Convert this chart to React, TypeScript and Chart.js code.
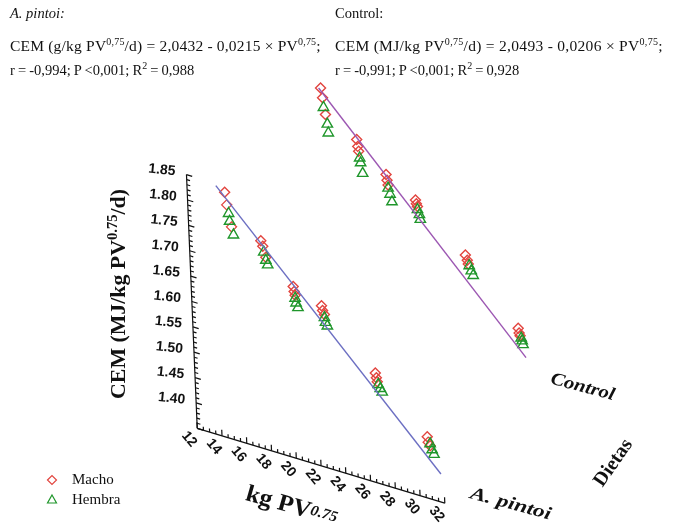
import React, { useEffect, useRef } from "react";
import { Chart, registerables } from "chart.js";

Chart.register(...registerables);

// ---------------- DATA ----------------
const DIETS = ["A. pintoi", "Control"];
const SEXES = ["Macho", "Hembra"];

// kg PV^0.75 (x) and CEM (MJ/kg PV^0.75/d) (y)
const pintoiMachoPV = [14.28, 14.4, 14.72, 17.07, 17.21, 17.42, 19.56, 19.62, 19.69, 21.81, 21.88, 22.02, 25.98, 26.05, 26.11, 30.01, 30.07, 30.22];
const pintoiMachoCEM = [1.792, 1.768, 1.727, 1.717, 1.707, 1.687, 1.645, 1.636, 1.629, 1.624, 1.615, 1.608, 1.522, 1.513, 1.506, 1.426, 1.416, 1.41];
const pintoiHembraPV = [14.53, 14.58, 14.85, 17.27, 17.41, 17.55, 19.68, 19.74, 19.88, 22.01, 22.08, 22.22, 26.18, 26.33, 26.48, 30.22, 30.36, 30.5];
const pintoiHembraCEM = [1.752, 1.737, 1.712, 1.696, 1.681, 1.673, 1.623, 1.614, 1.606, 1.602, 1.593, 1.587, 1.501, 1.494, 1.488, 1.414, 1.403, 1.395];
const controlMachoPV = [14.47, 14.6, 14.78, 17.25, 17.31, 17.37, 19.53, 19.59, 19.66, 21.85, 21.91, 21.99, 25.74, 25.88, 25.95, 29.81, 29.87, 29.94];
const controlMachoCEM = [1.788, 1.77, 1.738, 1.707, 1.694, 1.685, 1.655, 1.644, 1.635, 1.622, 1.615, 1.61, 1.542, 1.533, 1.526, 1.428, 1.419, 1.414];
const controlHembraPV = [14.64, 14.9, 14.95, 17.43, 17.49, 17.62, 19.65, 19.79, 19.92, 21.98, 22.12, 22.18, 26.02, 26.17, 26.31, 30.02, 30.09, 30.15];
const controlHembraCEM = [1.751, 1.72, 1.703, 1.672, 1.663, 1.643, 1.629, 1.618, 1.604, 1.604, 1.595, 1.586, 1.523, 1.514, 1.506, 1.41, 1.405, 1.398];

// fitted lines (end points)
const pintoiFitPV = [13.58, 31.0];
const pintoiFitCEM = [1.8, 1.36];
const controlFitPV = [14.31, 30.35];
const controlFitCEM = [1.787, 1.374];

const cemTickLabels = ["1.40", "1.45", "1.50", "1.55", "1.60", "1.65", "1.70", "1.75", "1.80", "1.85"];
const pvTickLabels = ["12", "14", "16", "18", "20", "22", "24", "26", "28", "30", "32"];

const headerLeft = ["A. pintoi:", "CEM (g/kg PV", "0,75", "/d) = 2,0432 - 0,0215 × PV", "0,75", ";", "r = -0,994; P <0,001; R", "2", " = 0,988"];
const headerRight = ["Control:", "CEM (MJ/kg PV", "0,75", "/d) = 2,0493 - 0,0206 × PV", "0,75", ";", "r = -0,991; P <0,001; R", "2", " = 0,928"];

// ---------------- PROJECTION (layout) ----------------
const PV_MIN = 12, PV_MAX = 32, CEM_MIN = 1.35, CEM_MAX = 1.85;
const ORIGIN = { x: 194, y: 433 };
const PV_VEC = { x: 12.65, y: 3.85 };
const CEM_VEC = { x: -22, y: -522 };
const FRONT = { x: 0, y: 0 };
const DIET_SHIFT = [{ x: 8.9, y: -20.9 }, { x: 104.4, y: -130.9 }];

function project(pv: number, cem: number, shift: { x: number; y: number }) {
  return {
    x: ORIGIN.x + (pv - PV_MIN) * PV_VEC.x + (cem - CEM_MIN) * CEM_VEC.x + shift.x,
    y: ORIGIN.y + (pv - PV_MIN) * PV_VEC.y + (cem - CEM_MIN) * CEM_VEC.y + shift.y,
  };
}
const series = (pv: number[], cem: number[], d: number) => pv.map((v, i) => project(v, cem[i], DIET_SHIFT[d]));

const RED = "#e2453f";
const GREEN = "#1f962b";
const SERIF = '"Liberation Serif", "Times New Roman", Times, serif';
const SANS = '"Liberation Sans", Arial, sans-serif';

type Run = { t: string; font: string; dy?: number };
function drawRuns(ctx: CanvasRenderingContext2D, runs: Run[], cx: number, cy: number, angle: number, sx: number, mid: number) {
  ctx.save();
  ctx.translate(cx, cy);
  ctx.rotate(angle);
  ctx.scale(sx, 1);
  let total = 0;
  runs.forEach((r) => { ctx.font = r.font; total += ctx.measureText(r.t).width; });
  let x = -total / 2;
  ctx.textAlign = "left";
  ctx.textBaseline = "alphabetic";
  runs.forEach((r) => {
    ctx.font = r.font;
    ctx.fillText(r.t, x, mid + (r.dy || 0));
    x += ctx.measureText(r.t).width;
  });
  ctx.restore();
}

const axesPlugin = {
  id: "axes3d",
  beforeDatasetsDraw(chart: any) {
    const ctx: CanvasRenderingContext2D = chart.ctx;
    const sx = chart.scales.x, sy = chart.scales.y;
    const P = (pv: number, cem: number, sh = FRONT) => {
      const p = project(pv, cem, sh);
      return { x: sx.getPixelForValue(p.x), y: sy.getPixelForValue(p.y) };
    };
    ctx.save();
    ctx.strokeStyle = "#111";
    ctx.fillStyle = "#111";
    ctx.lineWidth = 1.2;
    // vertical CEM axis
    const a0 = P(PV_MIN, CEM_MIN), a1 = P(PV_MIN, CEM_MAX);
    ctx.beginPath(); ctx.moveTo(a0.x, a0.y); ctx.lineTo(a1.x, a1.y); ctx.stroke();
    const pvLen = Math.hypot(PV_VEC.x, PV_VEC.y);
    const ux = PV_VEC.x / pvLen, uy = PV_VEC.y / pvLen;
    for (let k = 0; k <= 50; k++) {
      const c = CEM_MIN + k * 0.01;
      const p = P(PV_MIN, c);
      const len = k % 5 === 0 ? 6 : 3.5;
      ctx.beginPath(); ctx.moveTo(p.x, p.y); ctx.lineTo(p.x + ux * len, p.y + uy * len); ctx.stroke();
    }
    // horizontal PV axis
    const b1 = P(PV_MAX, CEM_MIN);
    ctx.beginPath(); ctx.moveTo(a0.x, a0.y); ctx.lineTo(b1.x, b1.y); ctx.stroke();
    const cLen = Math.hypot(CEM_VEC.x, CEM_VEC.y);
    const vx = CEM_VEC.x / cLen, vy = CEM_VEC.y / cLen;
    for (let k = 0; k <= 40; k++) {
      const v = PV_MIN + k * 0.5;
      const p = P(v, CEM_MIN);
      const len = k % 4 === 0 ? 6 : 3.5;
      ctx.beginPath(); ctx.moveTo(p.x, p.y); ctx.lineTo(p.x + vx * len, p.y + vy * len); ctx.stroke();
    }
    // CEM tick labels
    ctx.font = `bold 14px ${SANS}`;
    ctx.textAlign = "right";
    ctx.textBaseline = "middle";
    cemTickLabels.forEach((lab) => {
      const p = P(PV_MIN, parseFloat(lab));
      ctx.save();
      ctx.translate(p.x - 11, p.y - 3);
      ctx.rotate((6 * Math.PI) / 180);
      ctx.fillText(lab, 0, 0);
      ctx.restore();
    });
    // PV tick labels
    ctx.textAlign = "center";
    pvTickLabels.forEach((lab) => {
      const p = P(parseFloat(lab), CEM_MIN);
      ctx.save();
      ctx.translate(p.x - 8, p.y + 11);
      ctx.rotate((50 * Math.PI) / 180);
      ctx.fillText(lab, 0, 0);
      ctx.restore();
    });
    // axis titles
    drawRuns(ctx, [
      { t: "CEM (MJ/kg PV", font: `bold 21px ${SERIF}` },
      { t: "0.75", font: `bold 14px ${SERIF}`, dy: -8 },
      { t: "/d)", font: `bold 21px ${SERIF}` },
    ], 118, 294, -Math.PI / 2, 1.04, 7);
    drawRuns(ctx, [
      { t: "kg PV", font: `bold 24px ${SERIF}` },
      { t: "0.75", font: `italic bold 15px ${SERIF}`, dy: -4 },
    ], 292, 505, (16 * Math.PI) / 180, 1.05, 8);
    drawRuns(ctx, [{ t: DIETS[0], font: `italic bold 18px ${SERIF}` }], 511, 503, (15 * Math.PI) / 180, 1.3, 6);
    drawRuns(ctx, [{ t: DIETS[1], font: `italic bold 18px ${SERIF}` }], 583, 386, (15 * Math.PI) / 180, 1.15, 6);
    drawRuns(ctx, [{ t: "Dietas", font: `bold 20px ${SERIF}` }], 612, 462, (-55 * Math.PI) / 180, 1, 7);

    // legend
    const lx = 52, ly = [480, 500];
    ctx.lineWidth = 1.2;
    ctx.strokeStyle = RED;
    ctx.beginPath();
    ctx.moveTo(lx - 4.5, ly[0]); ctx.lineTo(lx, ly[0] - 4.5); ctx.lineTo(lx + 4.5, ly[0]); ctx.lineTo(lx, ly[0] + 4.5); ctx.closePath();
    ctx.stroke();
    ctx.strokeStyle = GREEN;
    ctx.beginPath();
    ctx.moveTo(lx, ly[1] - 5); ctx.lineTo(lx + 4.5, ly[1] + 3); ctx.lineTo(lx - 4.5, ly[1] + 3); ctx.closePath();
    ctx.stroke();
    ctx.fillStyle = "#111";
    ctx.font = `15px ${SERIF}`;
    ctx.textAlign = "left";
    ctx.textBaseline = "middle";
    ctx.fillText(SEXES[0], lx + 20, ly[0]);
    ctx.fillText(SEXES[1], lx + 20, ly[1]);
    ctx.restore();
  },
};

const baseLine: React.CSSProperties = {
  position: "absolute",
  fontFamily: SERIF,
  fontSize: 14.5,
  lineHeight: "15px",
  whiteSpace: "nowrap",
  color: "#111",
};
const supStyle: React.CSSProperties = { fontSize: 10, position: "relative", top: -6 };

function Header({ t, left, ls, italic }: { t: string[]; left: number; ls: number; italic: boolean }) {
  return (
    <>
      <div style={{ ...baseLine, left, top: 6, fontStyle: italic ? "italic" : "normal" }}>{t[0]}</div>
      <div style={{ ...baseLine, fontSize: 15.5, left, top: 38, letterSpacing: ls }}>
        {t[1]}<span style={supStyle}>{t[2]}</span>{t[3]}<span style={supStyle}>{t[4]}</span>{t[5]}
      </div>
      <div style={{ ...baseLine, left, top: 62.5, wordSpacing: -0.5 }}>
        {t[6]}<span style={supStyle}>{t[7]}</span>{t[8]}
      </div>
    </>
  );
}

export default function App() {
  const ref = useRef<HTMLCanvasElement>(null);
  useEffect(() => {
    const canvas = ref.current;
    if (!canvas) return;
    const marker = (label: string, data: any[], style: string, color: string, r: number) => ({
      label,
      data,
      pointStyle: style,
      pointRadius: r,
      pointBorderColor: color,
      pointBackgroundColor: "rgba(0,0,0,0)",
      pointBorderWidth: 1.4,
      borderColor: color,
      backgroundColor: "rgba(0,0,0,0)",
      showLine: false,
      order: 1,
    });
    const fit = (label: string, data: any[], color: string) => ({
      label,
      data,
      showLine: true,
      borderColor: color,
      borderWidth: 1.4,
      pointRadius: 0,
      backgroundColor: color,
      order: 0,
    });
    const chart = new Chart(canvas, {
      type: "scatter",
      data: {
        datasets: [
          fit(`${DIETS[0]} ajuste`, series(pintoiFitPV, pintoiFitCEM, 0), "#6c6fc2"),
          fit(`${DIETS[1]} ajuste`, series(controlFitPV, controlFitCEM, 1), "#9c57b2"),
          marker(`${SEXES[1]} ${DIETS[0]}`, series(pintoiHembraPV, pintoiHembraCEM, 0), "triangle", GREEN, 6),
          marker(`${SEXES[1]} ${DIETS[1]}`, series(controlHembraPV, controlHembraCEM, 1), "triangle", GREEN, 6),
          marker(`${SEXES[0]} ${DIETS[0]}`, series(pintoiMachoPV, pintoiMachoCEM, 0), "rectRot", RED, 5),
          marker(`${SEXES[0]} ${DIETS[1]}`, series(controlMachoPV, controlMachoCEM, 1), "rectRot", RED, 5),
        ] as any,
      },
      options: {
        responsive: false,
        animation: false,
        events: [],
        layout: { padding: 0 },
        scales: {
          x: { type: "linear", min: 0, max: 690, display: false },
          y: { type: "linear", min: 0, max: 530, reverse: true, display: false },
        },
        plugins: { legend: { display: false }, tooltip: { enabled: false } },
      },
      plugins: [axesPlugin],
    });
    return () => chart.destroy();
  }, []);
  return (
    <div style={{ position: "absolute", left: 0, top: 0, width: 690, height: 530, background: "#fff", overflow: "hidden" }}>
      <canvas ref={ref} width={690} height={530} style={{ position: "absolute", left: 0, top: 0 }} />
      <Header t={headerLeft} left={10} ls={0.2} italic={true} />
      <Header t={headerRight} left={335} ls={0.3} italic={false} />
    </div>
  );
}
